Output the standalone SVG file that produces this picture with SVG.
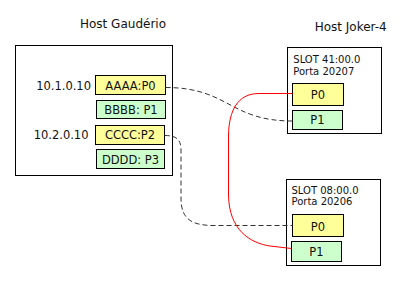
<svg xmlns="http://www.w3.org/2000/svg" width="405" height="281" viewBox="0 0 405 281">
  <style>
    text { font-family: "DejaVu Sans", Verdana, sans-serif; fill: #111; }
    .title { font-size: 12px; text-anchor: middle; }
    .ip { font-size: 11.5px; text-anchor: end; }
    .port { font-size: 11.5px; text-anchor: middle; }
    .slot { font-size: 10px; }
    .host { fill: #fff; stroke: #000; stroke-width: 1; }
    .yel { fill: #ffff99; stroke: #000; stroke-width: 1; }
    .grn { fill: #ccffcc; stroke: #000; stroke-width: 1; }
    .dash { fill: none; stroke: #333; stroke-width: 1; stroke-dasharray: 5 3; }
    .red { fill: none; stroke: #ff0000; stroke-width: 1; }
  </style>
  <rect width="405" height="281" fill="#fff"/>

  <!-- Host Gaudério -->
  <g id="host-gauderio">
    <text class="title" x="123" y="28">Host Gaudério</text>
    <rect class="host" x="15.5" y="45.5" width="157" height="130"/>
    <text class="ip" x="91" y="90">10.1.0.10</text>
    <text class="ip" x="88.5" y="139.3">10.2.0.10</text>
  </g>
  <g id="aaaa-p0">
    <rect class="yel" x="95.5" y="75.5" width="70" height="19"/>
    <text class="port" x="130.5" y="90">AAAA:P0</text>
  </g>
  <g id="bbbb-p1">
    <rect class="grn" x="96.5" y="100.5" width="69" height="18"/>
    <text class="port" x="131" y="114.3">BBBB: P1</text>
  </g>
  <g id="cccc-p2">
    <rect class="yel" x="95.5" y="125.5" width="69" height="19"/>
    <text class="port" x="130" y="139.3">CCCC:P2</text>
  </g>
  <g id="dddd-p3">
    <rect class="grn" x="96.5" y="149.5" width="68" height="19"/>
    <text class="port" x="130.5" y="164">DDDD: P3</text>
  </g>

  <!-- Host Joker-4 -->
  <g id="host-joker4">
    <text class="title" x="350.7" y="31">Host Joker-4</text>
  </g>
  <g id="slot-41">
    <rect class="host" x="287.5" y="47.5" width="94" height="86"/>
    <text class="slot" x="293.3" y="63.3">SLOT 41:00.0</text>
    <text class="slot" x="293.3" y="74.7">Porta 20207</text>
  </g>
  <g id="slot41-p0">
    <rect class="yel" x="292.5" y="83.5" width="51" height="22"/>
    <text class="port" x="318" y="99">P0</text>
  </g>
  <g id="slot41-p1">
    <rect class="grn" x="292.5" y="110.5" width="50" height="19"/>
    <text class="port" x="317.5" y="123.5">P1</text>
  </g>
  <g id="slot-08">
    <rect class="host" x="286.5" y="179.5" width="94" height="86"/>
    <text class="slot" x="291.5" y="194">SLOT 08:00.0</text>
    <text class="slot" x="291.5" y="205.3">Porta 20206</text>
  </g>
  <g id="slot08-p0">
    <rect class="yel" x="292.5" y="214.5" width="51" height="22"/>
    <text class="port" x="318" y="230.7">P0</text>
  </g>
  <g id="slot08-p1">
    <rect class="grn" x="291.5" y="241.5" width="50" height="20"/>
    <text class="port" x="316.5" y="256">P1</text>
  </g>

  <!-- links -->
  <g id="connectors">
    <path class="dash" d="M165.5,87.5 C229,87.5 229,121 292.5,121"/>
    <path class="dash" d="M164.5,135.5 C176,135.5 181,139 181,150 L181,198 C181,218 190,225.5 214,225.5 L292.5,225.5"/>
    <path class="red" d="M292.5,93.5 H258 C238,94 229,110 228.5,135 V195 C229,230 250,243 270,246 L291.5,248.5"/>
  </g>
</svg>
